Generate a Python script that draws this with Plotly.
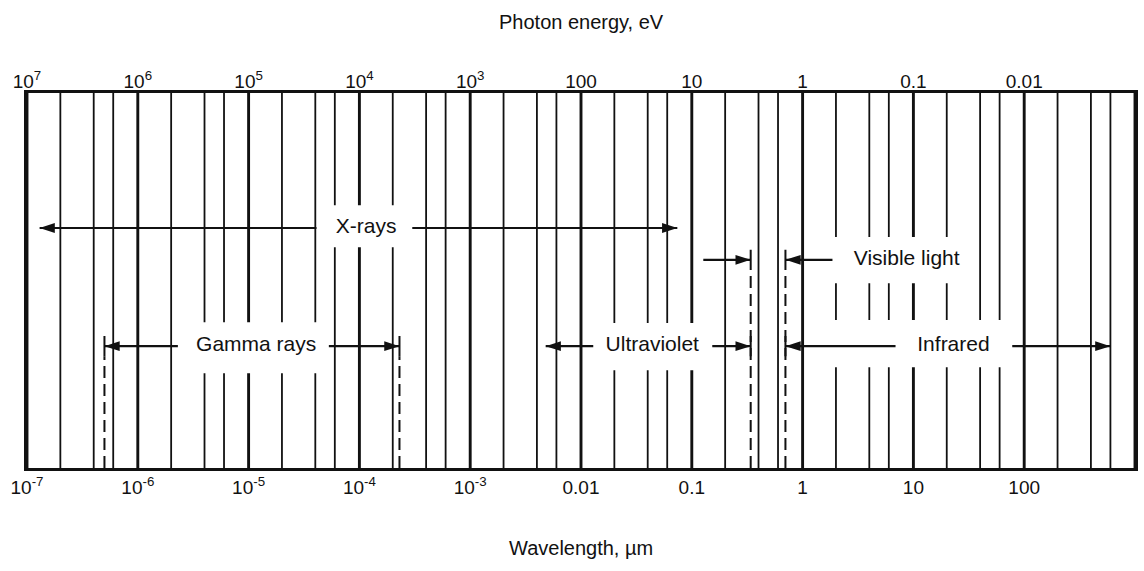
import numpy as np
import plotly.graph_objects as go

# ---- axis data (wavelength in micrometres) ----
decade_exponents = list(range(-7, 4))          # 1e-7 ... 1e3 um
minor_multipliers = [2, 4, 6]                   # thin lines inside each decade

wavelength_tick_vals = [1e-7, 1e-6, 1e-5, 1e-4, 1e-3, 0.01, 0.1, 1, 10, 100]
wavelength_tick_text = ["10<sup>-7</sup>", "10<sup>-6</sup>", "10<sup>-5</sup>",
                        "10<sup>-4</sup>", "10<sup>-3</sup>", "0.01", "0.1",
                        "1", "10", "100"]
energy_tick_text = ["10<sup>7</sup>", "10<sup>6</sup>", "10<sup>5</sup>",
                    "10<sup>4</sup>", "10<sup>3</sup>", "100", "10", "1",
                    "0.1", "0.01"]

# ---- spectral regions (um) ----
gamma_limits = [5e-7, 2.3e-4]
visible_limits = [0.34, 0.70]

# arrows: (tail, tip) in um, per row
xray_arrows = [(4.1e-5, 1.3e-7), (3.0e-4, 0.074)]
gamma_arrows = [(2.3e-6, 5e-7), (5.3e-5, 2.3e-4)]
uv_arrows = [(0.0129, 0.0048), (0.153, 0.34)]
visible_arrows = [(0.127, 0.34), (1.86, 0.70)]
ir_arrows = [(6.9, 0.70), (78, 600)]

# label names and their centres (um)
band_names = ["X-rays", "Gamma rays", "Ultraviolet", "Visible light", "Infrared"]
band_label_x = [1.15e-4, 1.17e-5, 0.044, 8.7, 23]

# white panels behind the labels (x0, x1 in um)
panel_x = [(4.3e-5, 2.8e-4), (2.4e-6, 5.0e-5), (0.0138, 0.147), (1.5, 28), (1.4, 78)]

# ---- vertical layout of rows (fraction of plot height) ----
ROW_XRAY = 0.64
ROW_VIS = 0.555
ROW_LOW = 0.325
BAR_HALF = 0.027
band_rows = [ROW_XRAY, ROW_LOW, ROW_LOW, ROW_VIS, ROW_LOW]
panel_y = [(0.589, 0.701), (0.253, 0.389), (0.261, 0.387), (0.493, 0.616), (0.269, 0.395)]

INK = "#111111"
FONT = "Liberation Sans, Arial, sans-serif"

fig = go.Figure()


def vlines(xs, y0=0.0, y1=1.0):
    xx, yy = [], []
    for v in xs:
        xx += [v, v, None]
        yy += [y0, y1, None]
    return xx, yy


# grid of wavelength lines
decade_vals = [10.0 ** e for e in decade_exponents]
minor_vals = [m * 10.0 ** e for e in decade_exponents[:-1] for m in minor_multipliers]

gx, gy = vlines(minor_vals)
fig.add_trace(go.Scatter(x=gx, y=gy, mode="lines",
                         line=dict(color=INK, width=1.8), hoverinfo="skip"))
gx, gy = vlines(decade_vals)
fig.add_trace(go.Scatter(x=gx, y=gy, mode="lines",
                         line=dict(color=INK, width=2.9), hoverinfo="skip"))

# white panels that interrupt the grid around each label
for (x0, x1), (y0, y1) in zip(panel_x, panel_y):
    fig.add_trace(go.Scatter(x=[x0, x1, x1, x0, x0], y=[y0, y0, y1, y1, y0],
                             mode="lines", fill="toself", fillcolor="white",
                             line=dict(width=0, color="white"), hoverinfo="skip"))

# dashed boundary lines
for v in gamma_limits:
    fig.add_trace(go.Scatter(x=[v, v], y=[0, ROW_LOW - BAR_HALF], mode="lines",
                             line=dict(color=INK, width=2, dash="12px,6px"),
                             hoverinfo="skip"))
for v in visible_limits:
    fig.add_trace(go.Scatter(x=[v, v], y=[0, ROW_VIS - BAR_HALF], mode="lines",
                             line=dict(color=INK, width=2, dash="12px,6px"),
                             hoverinfo="skip"))

# end bars of the bounded ranges
bars = [(gamma_limits[0], ROW_LOW), (gamma_limits[1], ROW_LOW),
        (visible_limits[0], ROW_VIS), (visible_limits[1], ROW_VIS),
        (visible_limits[0], ROW_LOW), (visible_limits[1], ROW_LOW)]
bx, by = [], []
for v, r in bars:
    bx += [v, v, None]
    by += [r - BAR_HALF, r + BAR_HALF, None]
fig.add_trace(go.Scatter(x=bx, y=by, mode="lines",
                         line=dict(color=INK, width=2), hoverinfo="skip"))

# arrows
all_arrows = [(xray_arrows, ROW_XRAY), (gamma_arrows, ROW_LOW), (uv_arrows, ROW_LOW),
              (visible_arrows, ROW_VIS), (ir_arrows, ROW_LOW)]
for arrows, row in all_arrows:
    for tail, tip in arrows:
        fig.add_trace(go.Scatter(x=[tail, tip], y=[row, row], mode="lines",
                                 line=dict(color=INK, width=2.2), hoverinfo="skip"))
        fig.add_trace(go.Scatter(x=[tip], y=[row], mode="markers",
                                 marker=dict(symbol="arrow", size=16,
                                             angle=90 if tip > tail else -90,
                                             color=INK, line=dict(width=0)),
                                 hoverinfo="skip"))

# band labels
fig.add_trace(go.Scatter(x=band_label_x, y=band_rows, mode="text",
                         text=band_names, textposition="middle center",
                         textfont=dict(family=FONT, size=21, color=INK),
                         hoverinfo="skip"))

# top axis carrier
fig.add_trace(go.Scatter(x=[1e-7, 1e3], y=[None, None], xaxis="x2",
                         mode="lines", hoverinfo="skip"))

fig.update_layout(
    width=1144, height=571,
    margin=dict(l=27, r=6, t=93, b=103),
    paper_bgcolor="white", plot_bgcolor="white",
    showlegend=False, hovermode=False,
    font=dict(family=FONT, color=INK),
    xaxis=dict(type="log", range=[-7, 3], showgrid=False, zeroline=False,
               showline=True, linecolor=INK, linewidth=2.8, mirror=True,
               tickmode="array", tickvals=wavelength_tick_vals,
               ticktext=wavelength_tick_text, ticks="",
               tickfont=dict(family=FONT, size=19, color=INK)),
    xaxis2=dict(type="log", range=[-7, 3], overlaying="x", side="top",
                anchor="y", showgrid=False, zeroline=False, showline=False,
                tickmode="array", tickvals=wavelength_tick_vals,
                ticktext=energy_tick_text, ticks="",
                tickfont=dict(family=FONT, size=19, color=INK)),
    yaxis=dict(range=[0, 1], showgrid=False, zeroline=False,
               showticklabels=False, showline=True, linecolor=INK,
               linewidth=2.8, mirror=True),
    annotations=[
        dict(text="Photon energy, eV", xref="paper", yref="paper",
             x=0.5, y=1.19, xanchor="center", yanchor="middle",
             showarrow=False, font=dict(family=FONT, size=20, color=INK)),
        dict(text="Wavelength, µm", xref="paper", yref="paper",
             x=0.5, y=-0.213, xanchor="center", yanchor="middle",
             showarrow=False, font=dict(family=FONT, size=20, color=INK)),
    ],
)

fig.write_html("out.html")
